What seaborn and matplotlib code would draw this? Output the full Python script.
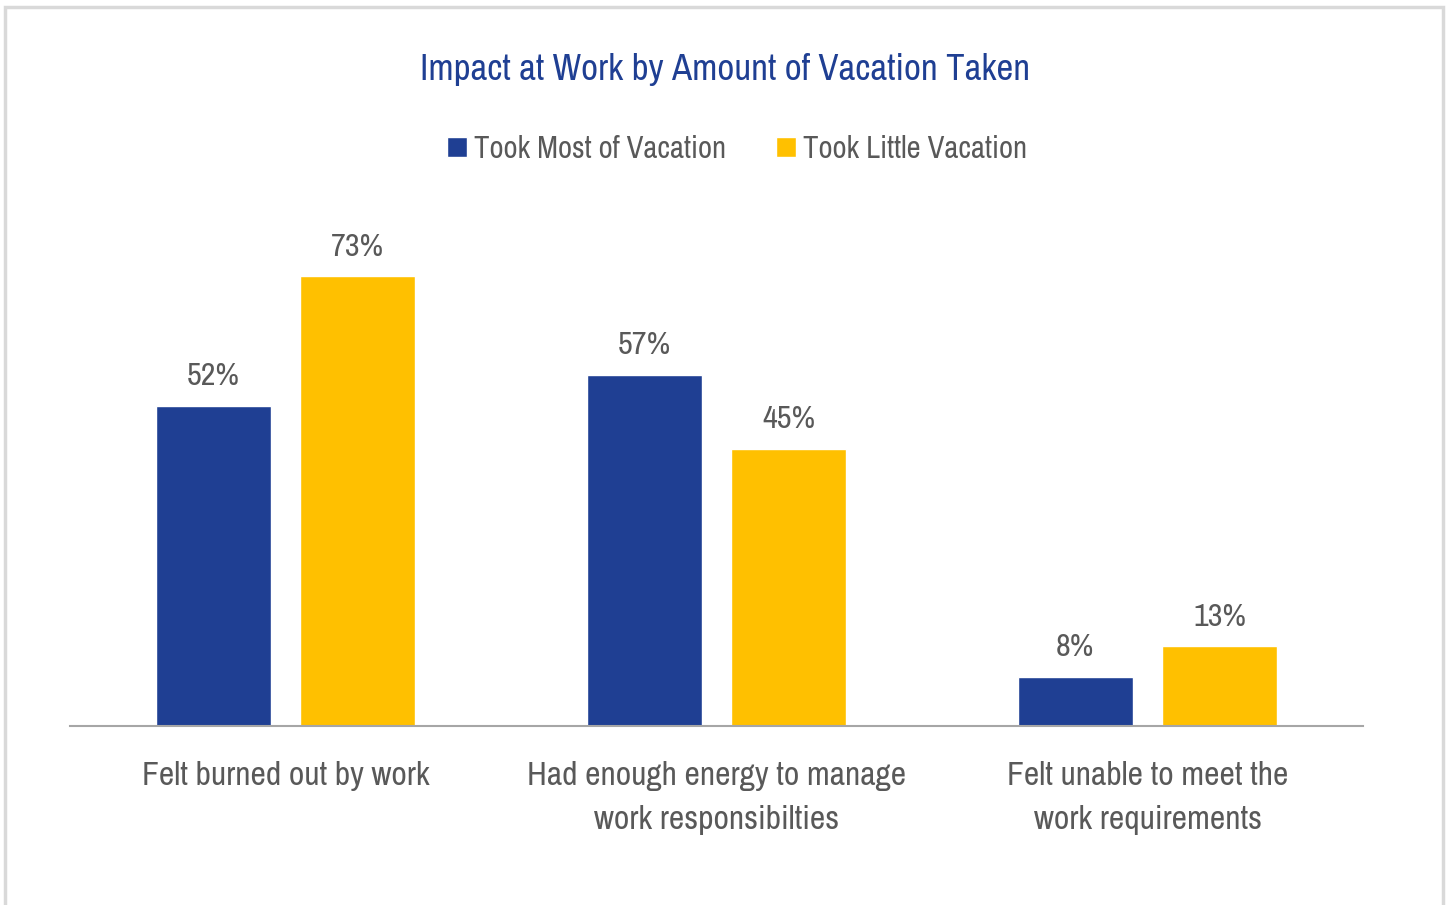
import matplotlib
matplotlib.use("Agg")
import matplotlib.pyplot as plt
from matplotlib import font_manager
from matplotlib.patches import Rectangle
import seaborn as sns
import pandas as pd

categories = ["Felt burned out by work",
              "Had enough energy to manage\nwork responsibilties",
              "Felt unable to meet the\nwork requirements"]
series = ["Took Most of Vacation", "Took Little Vacation"]
most_vacation = [52, 57, 8]
little_vacation = [73, 45, 13]

title = "Impact at Work by Amount of Vacation Taken"

blue = "#1F3F93"
yellow = "#FFC000"
gray_text = "#595959"

sns.set_theme(style="white")

# look for a narrow face, the original uses a condensed font
family, stretch = "Roboto", "normal"
for f in font_manager.fontManager.ttflist:
    if "Narrow" in f.name or "Condensed" in f.name:
        family, stretch = f.name, "normal"
        break
else:
    for f in font_manager.fontManager.ttflist:
        if str(f.stretch) in ("condensed", "semi-condensed", "extra-condensed") and f.style == "normal":
            family, stretch = f.name, f.stretch
            break
plt.rcParams["font.family"] = [family, "DejaVu Sans"]
plt.rcParams["font.stretch"] = stretch

df = pd.DataFrame({
    "category": categories * 2,
    "group": [series[0]] * 3 + [series[1]] * 3,
    "value": most_vacation + little_vacation,
})

fig = plt.figure(figsize=(14.48, 9.05), dpi=100)
renderer = fig.canvas.get_renderer()


def fit_size(s, px):
    t = fig.text(0, 0, s, fontsize=20)
    w = t.get_window_extent(renderer).width
    t.remove()
    return min(20 * px / w, 30)


title_size = fit_size(title, 586) * 1.04
legend_size = fit_size(series[0], 250) * 1.01
cat_size = fit_size(categories[0], 271) * 1.06
value_size = fit_size("73%", 50) * 1.06

ax = fig.add_axes([70 / 1448, 179 / 905, 1293 / 1448, 493 / 905])

sns.barplot(data=df, x="category", y="value", hue="group",
            order=categories, hue_order=series,
            palette=[blue, yellow], width=0.67, gap=0.2,
            saturation=1, ax=ax)

for cont in ax.containers:
    ax.bar_label(cont, fmt="%d%%", padding=11, fontsize=value_size, color=gray_text)

ax.set_ylim(0, 80)
ax.set_xlim(-0.5, 2.5)
ax.set_xlabel("")
ax.set_ylabel("")
ax.set_yticks([])
ax.tick_params(axis="x", length=0, pad=25, labelsize=cat_size, labelcolor=gray_text)
for lbl in ax.get_xticklabels():
    lbl.set_linespacing(1.6)
for s in ["top", "right", "left"]:
    ax.spines[s].set_visible(False)
ax.spines["bottom"].set_color("#A6A6A6")
ax.spines["bottom"].set_linewidth(1.5)

handles, labels = ax.get_legend_handles_labels()
ax.get_legend().remove()
fig.legend(handles, labels, loc="center", bbox_to_anchor=(737 / 1448, 1 - 149 / 905),
           ncol=2, frameon=False, fontsize=legend_size, labelcolor=gray_text,
           handlelength=0.65, handleheight=0.65, handletextpad=0.25, columnspacing=1.6)

fig.text(725 / 1448, 1 - 70 / 905, title,
         ha="center", va="center", fontsize=title_size, color=blue)

border = Rectangle((5 / 1448, -0.05), 1438 / 1448, 1.05 - 7 / 905,
                   transform=fig.transFigure, fill=False,
                   edgecolor="#D9D9D9", linewidth=2.5, clip_on=False)
fig.patches.append(border)

fig.savefig("out.png", dpi=100)
